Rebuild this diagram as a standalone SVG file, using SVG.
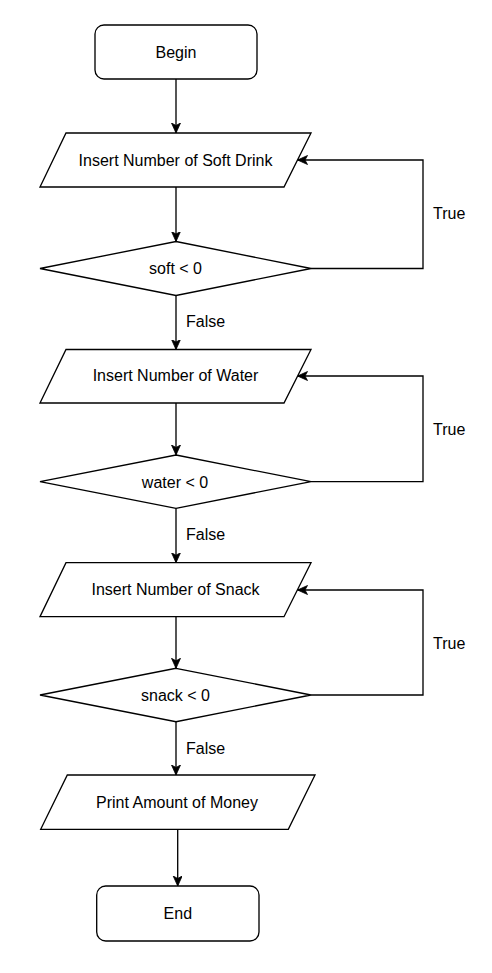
<svg xmlns="http://www.w3.org/2000/svg" width="492" height="973" viewBox="0 0 492 973">
<defs>
<marker id="arr" markerUnits="userSpaceOnUse" markerWidth="11" markerHeight="10" refX="10" refY="4.5" orient="auto" viewBox="0 0 11 10">
<path d="M0,0 L10,4.5 L0,9 L2.5,4.5 z" fill="#000" stroke="#000" stroke-width="0.8"/>
</marker>
<style>
.sh{fill:#fff;stroke:#000;stroke-width:1.33}
.ln{fill:none;stroke:#000;stroke-width:1.33;marker-end:url(#arr)}
text{font-family:"Liberation Sans",Arial,sans-serif;font-size:16px;fill:#000}
.c{text-anchor:middle}
</style>
</defs>
<rect width="492" height="973" fill="#fff"/>
<g id="connectors">
<path class="ln" d="M176,79 L176,133"/>
<path class="ln" d="M176,187 L176,241.5"/>
<path class="ln" d="M311,268.5 L423,268.5 L423,160 L297.5,160"/>
<path class="ln" d="M176,295.5 L176,349.5"/>
<path class="ln" d="M176,403 L176,455"/>
<path class="ln" d="M311,481.7 L423,481.7 L423,376 L297.5,376"/>
<path class="ln" d="M176,508.3 L176,562.7"/>
<path class="ln" d="M176,616.7 L176,668.3"/>
<path class="ln" d="M311,695 L423,695 L423,590 L297.5,590"/>
<path class="ln" d="M176,721.7 L176,775"/>
<path class="ln" d="M177.7,829.3 L177.7,886"/>
<text x="433" y="219">True</text>
<text x="186" y="327">False</text>
<text x="433" y="435">True</text>
<text x="186" y="540">False</text>
<text x="433" y="649">True</text>
<text x="186" y="754">False</text>
</g>
<g id="begin">
<rect class="sh" x="95" y="25" width="162" height="54" rx="9"/>
<text class="c" x="176" y="57.5">Begin</text>
</g>
<g id="input-soft">
<polygon class="sh" points="66,133 311,133 284,187 40,187"/>
<text class="c" x="175.5" y="165.5">Insert Number of Soft Drink</text>
</g>
<g id="dec-soft">
<polygon class="sh" points="176,241.5 311,268.5 176,295.5 40,268.5"/>
<text class="c" x="175.5" y="274">soft &lt; 0</text>
</g>
<g id="input-water">
<polygon class="sh" points="66,349.5 311,349.5 284,403 40,403"/>
<text class="c" x="175.5" y="381">Insert Number of Water</text>
</g>
<g id="dec-water">
<polygon class="sh" points="176,455 311,481.7 176,508.3 40,481.7"/>
<text class="c" x="175" y="487.5">water &lt; 0</text>
</g>
<g id="input-snack">
<polygon class="sh" points="66,562.7 311,562.7 284,616.7 40,616.7"/>
<text class="c" x="175.5" y="595">Insert Number of Snack</text>
</g>
<g id="dec-snack">
<polygon class="sh" points="176,668.3 311,695 176,721.7 40,695"/>
<text class="c" x="175.5" y="700.5">snack &lt; 0</text>
</g>
<g id="print">
<polygon class="sh" points="67.3,775 315,775 288.3,829.3 40.7,829.3"/>
<text class="c" x="177" y="808">Print Amount of Money</text>
</g>
<g id="end">
<rect class="sh" x="96.7" y="886" width="162.3" height="55" rx="9"/>
<text class="c" x="177.8" y="919">End</text>
</g>
</svg>
